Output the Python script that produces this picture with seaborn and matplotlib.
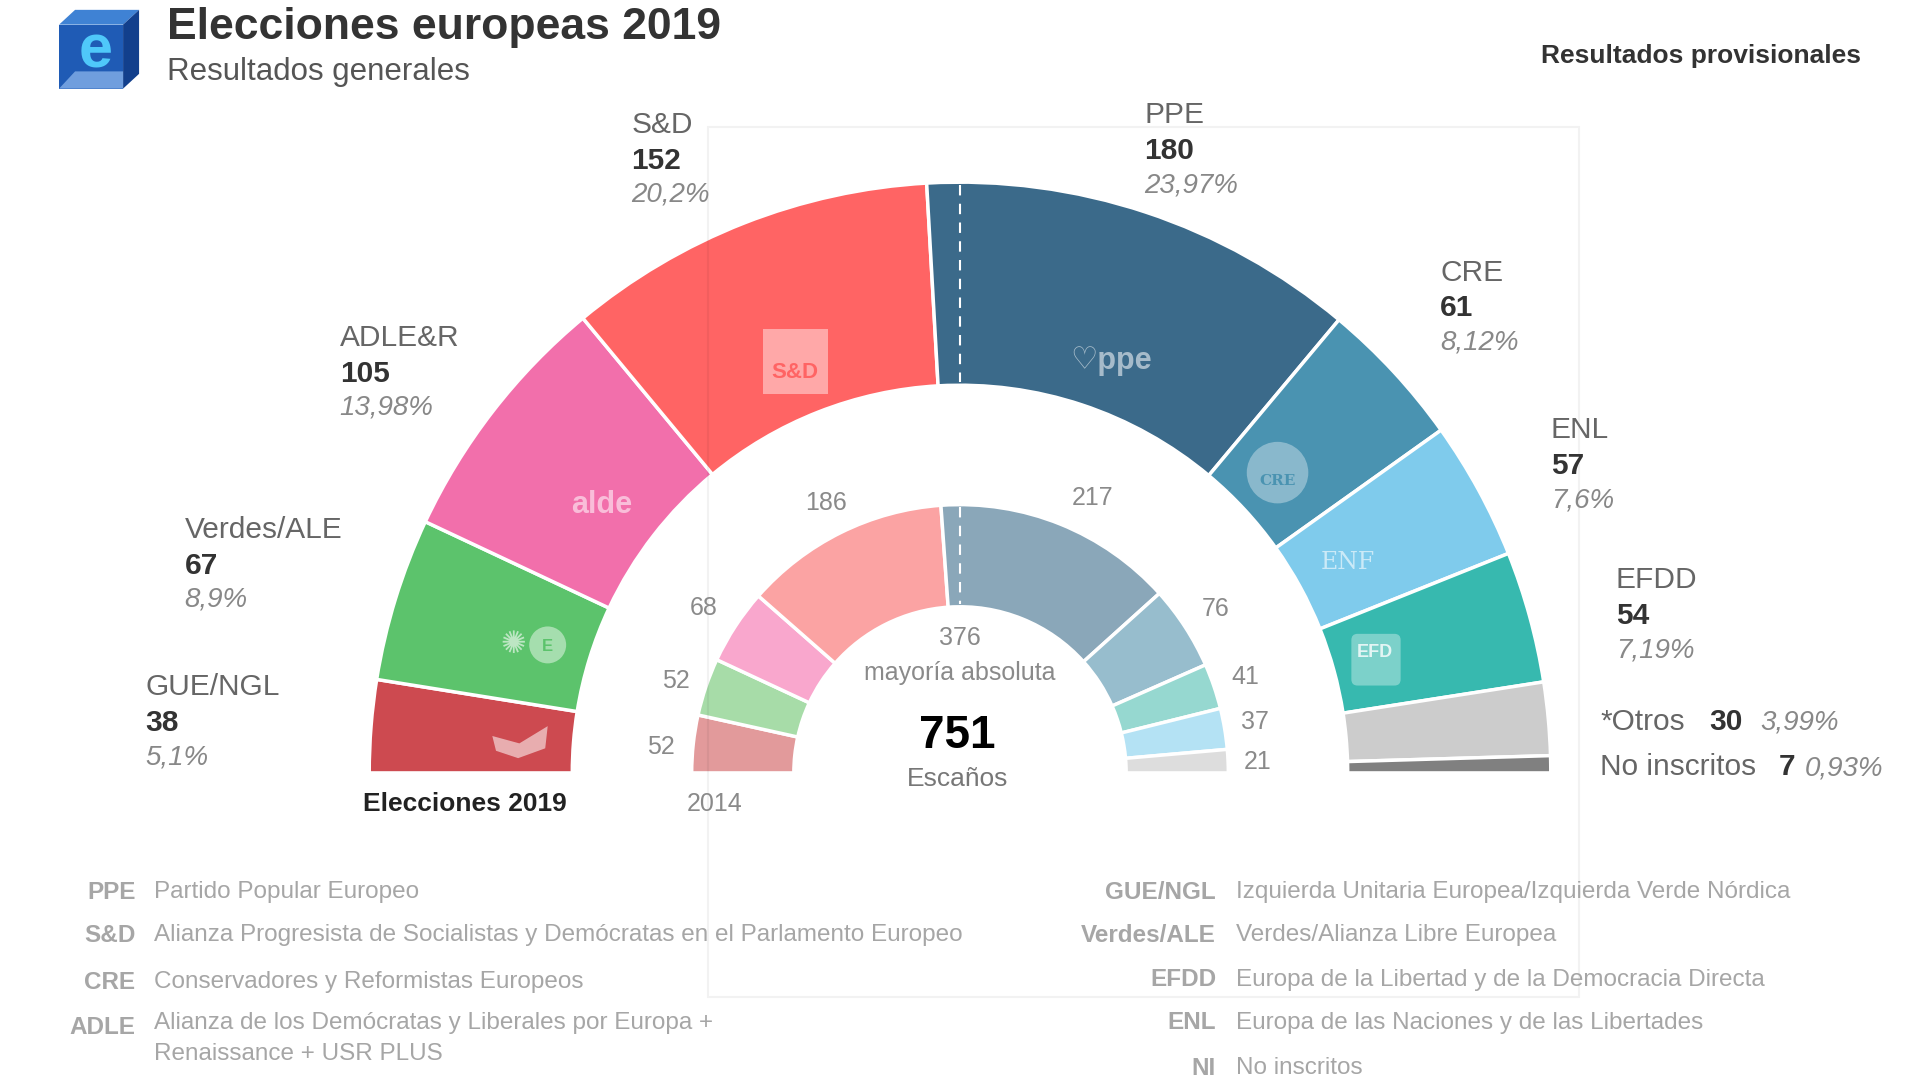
import matplotlib.pyplot as plt
import seaborn as sns
import numpy as np
from matplotlib.patches import Wedge, Polygon, Rectangle, Circle, FancyBboxPatch

sns.set_style("white")
plt.rcParams['font.family'] = ['Liberation Sans', 'DejaVu Sans']
NARROW = ['Liberation Sans Narrow', 'Liberation Sans', 'DejaVu Sans']

# data 2019 (outer ring)
groups_2019 = ['GUE/NGL', 'Verdes/ALE', 'ADLE&R', 'S&D', 'PPE', 'CRE', 'ENL', 'EFDD', 'Otros', 'NI']
seats_2019 = [38, 67, 105, 152, 180, 61, 57, 54, 30, 7]
pct_2019 = ['5,1%', '8,9%', '13,98%', '20,2%', '23,97%', '8,12%', '7,6%', '7,19%', '3,99%', '0,93%']
colors_2019 = ['#cd4a50', '#5cc36c', '#f26fab', '#ff6464', '#3b6a8a', '#4a93b1',
               '#7fcbec', '#37b9af', '#cccccc', '#808080']

# data 2014 (inner ring)
seats_2014 = [52, 52, 68, 186, 217, 76, 41, 37, 21]
colors_2014 = ['#e29a9b', '#a7dca8', '#f9a7cd', '#fba3a3', '#8aa7b9', '#97bdcd',
               '#96d8d0', '#b4e2f4', '#dddddd']

# bottom legend
abbr_left = ['PPE', 'S&D', 'CRE', 'ADLE']
desc_left = ['Partido Popular Europeo',
             'Alianza Progresista de Socialistas y Demócratas en el Parlamento Europeo',
             'Conservadores y Reformistas Europeos',
             'Alianza de los Demócratas y Liberales por Europa +\nRenaissance + USR PLUS']
abbr_right = ['GUE/NGL', 'Verdes/ALE', 'EFDD', 'ENL', 'NI']
desc_right = ['Izquierda Unitaria Europea/Izquierda Verde Nórdica',
              'Verdes/Alianza Libre Europea',
              'Europa de la Libertad y de la Democracia Directa',
              'Europa de las Naciones y de las Libertades',
              'No inscritos']

W, H = 1560, 877.5
CX, CY = 780, 628

fig = plt.figure(figsize=(19.2, 10.8), dpi=100)
ax = fig.add_axes([0, 0, 1, 1])
ax.set_xlim(0, W)
ax.set_ylim(H, 0)
ax.axis('off')


def ring(seats, colors, r_out, r_in):
    total = sum(seats)
    edges = 180 - 180 * np.concatenate([[0], np.cumsum(seats)]) / total
    for a0, a1, c in zip(edges[:-1], edges[1:], colors):
        ax.add_patch(Wedge((CX, CY), r_out, -a0, -a1, width=r_out - r_in,
                           facecolor=c, edgecolor='white', lw=2.5))


ring(seats_2019, colors_2019, 480, 315)
ring(seats_2014, colors_2014, 218, 135)

# majority dashed lines
ax.plot([CX, CX], [CY - 478, CY - 318], color='white', lw=1.5, ls=(0, (5, 4)))
ax.plot([CX, CX], [CY - 216, CY - 137], color='white', lw=1.5, ls=(0, (5, 4)))

# logos inside wedges (approximate)
ax.add_patch(Rectangle((620, 267), 53, 53, facecolor='#ffb0b0', edgecolor='none', alpha=0.9))
ax.text(646, 303, 'S&D', color='#ff6464', fontsize=16, fontweight='bold', ha='center', va='center')
ax.text(903, 293, '♡ppe', color='white', alpha=0.55, fontsize=22, fontweight='bold', ha='center', va='center')
ax.text(489, 410, 'alde', color='white', alpha=0.55, fontsize=22, fontweight='bold', ha='center', va='center')
ax.add_patch(Circle((1038, 384), 25, facecolor='white', alpha=0.35, edgecolor='none'))
ax.text(1038, 391, 'CRE', color='#4a93b1', fontsize=11, family='DejaVu Serif', fontweight='bold',
        ha='center', va='center')
ax.text(1095, 457, 'ENF', color='white', alpha=0.6, fontsize=17, family='DejaVu Serif', ha='center', va='center')
ax.add_patch(FancyBboxPatch((1098, 515), 40, 42, boxstyle='round,pad=0,rounding_size=5',
                            facecolor='white', alpha=0.35, edgecolor='none'))
ax.text(1117, 530, 'EFD', color='white', alpha=0.8, fontsize=13, fontweight='bold', ha='center', va='center')
ax.add_patch(Circle((445, 524), 15, facecolor='white', alpha=0.45, edgecolor='none'))
ax.text(417, 524, '✺', color='white', alpha=0.6, fontsize=22, family='DejaVu Sans', ha='center', va='center')
ax.text(445, 525, 'E', color='#5cc36c', fontsize=12, fontweight='bold', ha='center', va='center')
ax.add_patch(Polygon([(400, 598), (422, 604), (445, 590), (443, 608), (421, 616), (403, 610)],
                     closed=True, facecolor='white', alpha=0.55, edgecolor='none'))

# faint watermark frame
ax.add_patch(Rectangle((575, 103), 708, 707, facecolor='none', edgecolor='black', alpha=0.05, lw=1.5))

# outer ring labels
label_pos = {'GUE/NGL': (118, 565), 'Verdes/ALE': (150, 437), 'ADLE&R': (276, 281),
             'S&D': (513, 108), 'PPE': (930, 100), 'CRE': (1170, 228),
             'ENL': (1260, 356), 'EFDD': (1313, 478)}
for g, s, p in zip(groups_2019, seats_2019, pct_2019):
    if g not in label_pos:
        continue
    x, y = label_pos[g]
    ax.text(x, y, g, color='#666666', fontsize=21.5, va='baseline')
    ax.text(x, y + 29, str(s), color='#333333', fontsize=21.5, fontweight='bold', va='baseline')
    ax.text(x, y + 56, p, color='#888888', fontsize=20, style='italic', va='baseline')

# Otros / No inscritos
ax.text(1300, 593, '*Otros', color='#666666', fontsize=21.5, va='baseline')
ax.text(1389, 593, str(seats_2019[8]), color='#333333', fontsize=21.5, fontweight='bold', va='baseline')
ax.text(1430, 593, pct_2019[8], color='#888888', fontsize=20, style='italic', va='baseline')
ax.text(1300, 630, 'No inscritos', color='#666666', fontsize=21.5, va='baseline')
ax.text(1445, 630, str(seats_2019[9]), color='#333333', fontsize=21.5, fontweight='bold', va='baseline')
ax.text(1466, 630, pct_2019[9], color='#888888', fontsize=20, style='italic', va='baseline')

# inner ring labels
inner_pos = [(537, 607), (549, 553), (572, 494), (671, 409), (888, 405),
             (988, 495), (1012, 550), (1020, 587), (1022, 619)]
for (x, y), s in zip(inner_pos, seats_2014):
    ax.text(x, y, str(s), color='#8a8a8a', fontsize=18, family=NARROW, ha='center', va='center')

# centre texts
ax.text(780, 518, '376', color='#8a8a8a', fontsize=18, family=NARROW, ha='center', va='center')
ax.text(780, 547, 'mayoría absoluta', color='#8a8a8a', fontsize=18, family=NARROW, ha='center', va='center')
ax.text(778, 598, str(sum(seats_2019)), color='black', fontsize=33, fontweight='bold', family=NARROW,
        ha='center', va='center')
ax.text(778, 633, 'Escaños', color='#777777', fontsize=19, family=NARROW, ha='center', va='center')
ax.text(378, 653, 'Elecciones 2019', color='#222222', fontsize=19, fontweight='bold', family=NARROW,
        ha='center', va='center')
ax.text(581, 653, '2014', color='#8a8a8a', fontsize=18, family=NARROW, ha='center', va='center')

# header
ax.add_patch(Polygon([(48, 20), (61, 8), (113, 8), (100, 20)], closed=True, facecolor='#3f82d4', edgecolor='none'))
ax.add_patch(Polygon([(100, 20), (113, 8), (113, 60), (100, 72)], closed=True, facecolor='#123f8c',
                     edgecolor='none'))
ax.add_patch(Rectangle((48, 20), 52, 52, facecolor='#1f5bb5', edgecolor='none'))
ax.add_patch(Polygon([(48, 72), (61, 58), (100, 58), (100, 72)], closed=True, facecolor='#6f9ede',
                     edgecolor='none'))
ax.text(78, 42, 'e', color='#4fc8fa', fontsize=44, fontweight='bold', ha='center', va='center')
ax.text(136, 32, 'Elecciones europeas 2019', color='#333333', fontsize=32, fontweight='bold', va='baseline')
ax.text(136, 65, 'Resultados generales', color='#555555', fontsize=22.5, va='baseline')
ax.text(1512, 51, 'Resultados provisionales', color='#333333', fontsize=19, fontweight='bold',
        family=NARROW, ha='right', va='baseline')

# bottom legend
rows_left = [725, 760, 798, 835]
for y, a, d in zip(rows_left, abbr_left, desc_left):
    ax.text(110, y, a, color='#a6a6a6', fontsize=17.5, fontweight='bold', family=NARROW, ha='right', va='center')
    if '\n' in d:
        ax.text(125, y - 13, d, color='#a6a6a6', fontsize=17.5, family=NARROW, ha='left', va='top',
                linespacing=1.55)
    else:
        ax.text(125, y, d, color='#a6a6a6', fontsize=17.5, family=NARROW, ha='left', va='center')

rows_right = [725, 760, 796, 831, 868]
for y, a, d in zip(rows_right, abbr_right, desc_right):
    ax.text(988, y, a, color='#a6a6a6', fontsize=17.5, fontweight='bold', family=NARROW, ha='right', va='center')
    ax.text(1004, y, d, color='#a6a6a6', fontsize=17.5, family=NARROW, ha='left', va='center')

fig.savefig('out.png', dpi=100, facecolor='white')
